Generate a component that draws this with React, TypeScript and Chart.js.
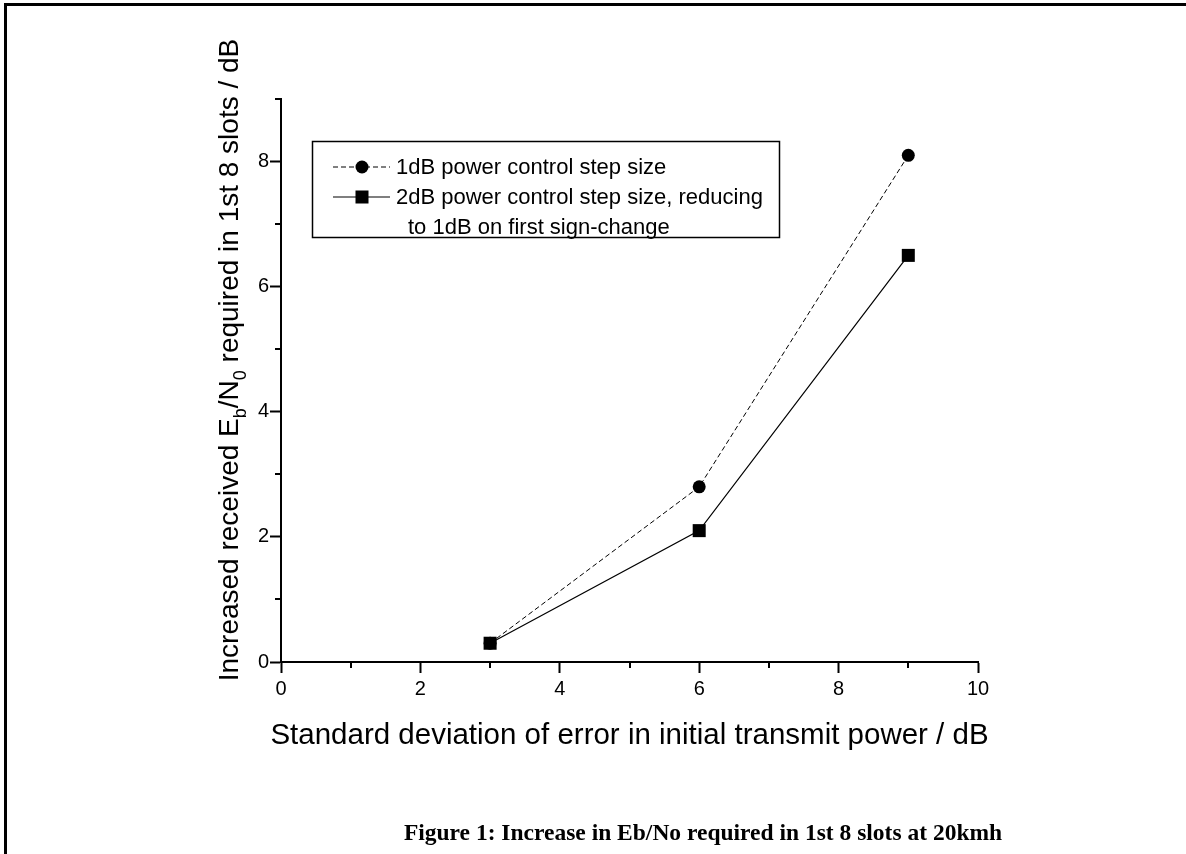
import React, { useEffect, useRef } from "react";
import { Chart, registerables } from "chart.js";

Chart.register(...registerables);

const xValues = [3, 6, 9];
const series1dB = [0.3, 2.8, 8.1];
const series2dB = [0.3, 2.1, 6.5];
const xMinorTicks = [1, 3, 5, 7, 9];
const yMinorTicks = [1, 3, 5, 7, 9];
const legendLabels = [
  "1dB power control step size",
  "2dB power control step size, reducing",
  "to 1dB on first sign-change",
];
const xTitle = "Standard deviation of error in initial transmit power / dB";
const yTitleParts: { t: string; sub: boolean }[] = [
  { t: "Increased received E", sub: false },
  { t: "b", sub: true },
  { t: "/N", sub: false },
  { t: "0", sub: true },
  { t: " required in 1st 8 slots / dB", sub: false },
];
const caption = "Figure 1: Increase in Eb/No required in 1st 8 slots at 20kmh";

const SANS = "'Liberation Sans', Arial, sans-serif";
const SERIF = "'Liberation Serif', 'Times New Roman', serif";

const decorPlugin = {
  id: "decor",
  afterDraw(chart: any) {
    const ctx: CanvasRenderingContext2D = chart.ctx;
    const xs = chart.scales.x;
    const ys = chart.scales.y;
    const area = chart.chartArea;
    ctx.save();
    ctx.strokeStyle = "#000";
    ctx.fillStyle = "#000";

    // minor ticks
    ctx.lineWidth = 2;
    ctx.beginPath();
    for (const v of xMinorTicks) {
      const px = Math.round(xs.getPixelForValue(v));
      ctx.moveTo(px, area.bottom);
      ctx.lineTo(px, area.bottom + 6);
    }
    for (const v of yMinorTicks) {
      const py = Math.round(ys.getPixelForValue(v));
      ctx.moveTo(area.left - 6, py);
      ctx.lineTo(area.left, py);
    }
    ctx.stroke();

    // frame (left + top)
    ctx.lineWidth = 3;
    ctx.beginPath();
    ctx.moveTo(5.5, 854);
    ctx.lineTo(5.5, 4.5);
    ctx.lineTo(1186, 4.5);
    ctx.stroke();

    // x title
    ctx.font = `29.5px ${SANS}`;
    ctx.textAlign = "center";
    ctx.textBaseline = "alphabetic";
    ctx.fillText(xTitle, (area.left + area.right) / 2, 744);

    // y title with subscripts
    ctx.save();
    ctx.translate(238, 360);
    ctx.rotate(-Math.PI / 2);
    const mainFont = `28px ${SANS}`;
    const subFont = `18px ${SANS}`;
    let total = 0;
    for (const p of yTitleParts) {
      ctx.font = p.sub ? subFont : mainFont;
      total += ctx.measureText(p.t).width;
    }
    let cx = -total / 2;
    ctx.textAlign = "left";
    for (const p of yTitleParts) {
      ctx.font = p.sub ? subFont : mainFont;
      ctx.fillText(p.t, cx, p.sub ? 8 : 0);
      cx += ctx.measureText(p.t).width;
    }
    ctx.restore();

    // legend box
    ctx.lineWidth = 1.5;
    ctx.setLineDash([]);
    ctx.strokeRect(312.5, 141.5, 467, 96);
    const rowY = [167, 197, 227];
    // row 1: dashed + circle
    ctx.lineWidth = 1;
    ctx.setLineDash([5, 3]);
    ctx.beginPath();
    ctx.moveTo(333, rowY[0]);
    ctx.lineTo(390, rowY[0]);
    ctx.stroke();
    ctx.setLineDash([]);
    ctx.beginPath();
    ctx.arc(362, rowY[0], 6.5, 0, Math.PI * 2);
    ctx.fill();
    // row 2: solid + square
    ctx.lineWidth = 1.2;
    ctx.beginPath();
    ctx.moveTo(333, rowY[1]);
    ctx.lineTo(390, rowY[1]);
    ctx.stroke();
    ctx.fillRect(355.5, rowY[1] - 6.5, 13, 13);
    // texts
    ctx.font = `22px ${SANS}`;
    ctx.textAlign = "left";
    ctx.textBaseline = "middle";
    ctx.fillText(legendLabels[0], 396, rowY[0] + 1);
    ctx.fillText(legendLabels[1], 396, rowY[1] + 1);
    ctx.fillText(legendLabels[2], 408, rowY[2] + 1);

    // caption
    ctx.font = `bold 23.5px ${SERIF}`;
    ctx.textAlign = "center";
    ctx.textBaseline = "alphabetic";
    ctx.fillText(caption, 703, 840);

    ctx.restore();
  },
};

export default function App() {
  const ref = useRef<HTMLCanvasElement>(null);
  useEffect(() => {
    if (!ref.current) return;
    const chart = new Chart(ref.current, {
      type: "line",
      data: {
        datasets: [
          {
            label: legendLabels[1],
            data: xValues.map((x, i) => ({ x, y: series2dB[i] })),
            borderColor: "#000",
            backgroundColor: "#000",
            borderWidth: 1.2,
            pointStyle: "rect",
            pointRadius: 9.2,
            pointBorderWidth: 0,
            order: 0,
          },
          {
            label: legendLabels[0],
            data: xValues.map((x, i) => ({ x, y: series1dB[i] })),
            borderColor: "#000",
            backgroundColor: "#000",
            borderWidth: 1,
            borderDash: [5, 3],
            pointStyle: "circle",
            pointRadius: 6.5,
            pointBorderWidth: 0,
            order: 1,
          },
        ],
      },
      options: {
        responsive: false,
        animation: false,
        devicePixelRatio: 1,
        layout: { padding: { left: 0, top: 99, right: 208, bottom: 0 } },
        plugins: { legend: { display: false }, tooltip: { enabled: false } },
        scales: {
          x: {
            type: "linear",
            min: 0,
            max: 10,
            afterFit: (s: any) => {
              s.height = 192;
            },
            border: { display: true, color: "#000", width: 2 },
            grid: {
              drawOnChartArea: false,
              drawTicks: true,
              tickLength: 11,
              tickWidth: 2,
              tickColor: "#000",
            },
            ticks: {
              stepSize: 2,
              includeBounds: false,
              color: "#000",
              padding: 4,
              font: { family: SANS, size: 20 },
            },
          },
          y: {
            type: "linear",
            min: 0,
            max: 9,
            afterFit: (s: any) => {
              s.width = 281;
            },
            border: { display: true, color: "#000", width: 2 },
            grid: {
              drawOnChartArea: false,
              drawTicks: true,
              tickLength: 11,
              tickWidth: 2,
              tickColor: "#000",
            },
            ticks: {
              stepSize: 2,
              includeBounds: false,
              color: "#000",
              padding: 1,
              font: { family: SANS, size: 20 },
            },
          },
        },
      },
      plugins: [decorPlugin],
    });
    return () => chart.destroy();
  }, []);
  return (
    <div style={{ position: "absolute", left: 0, top: 0, width: 1186, height: 854, background: "#fff" }}>
      <canvas ref={ref} width={1186} height={854} />
    </div>
  );
}
